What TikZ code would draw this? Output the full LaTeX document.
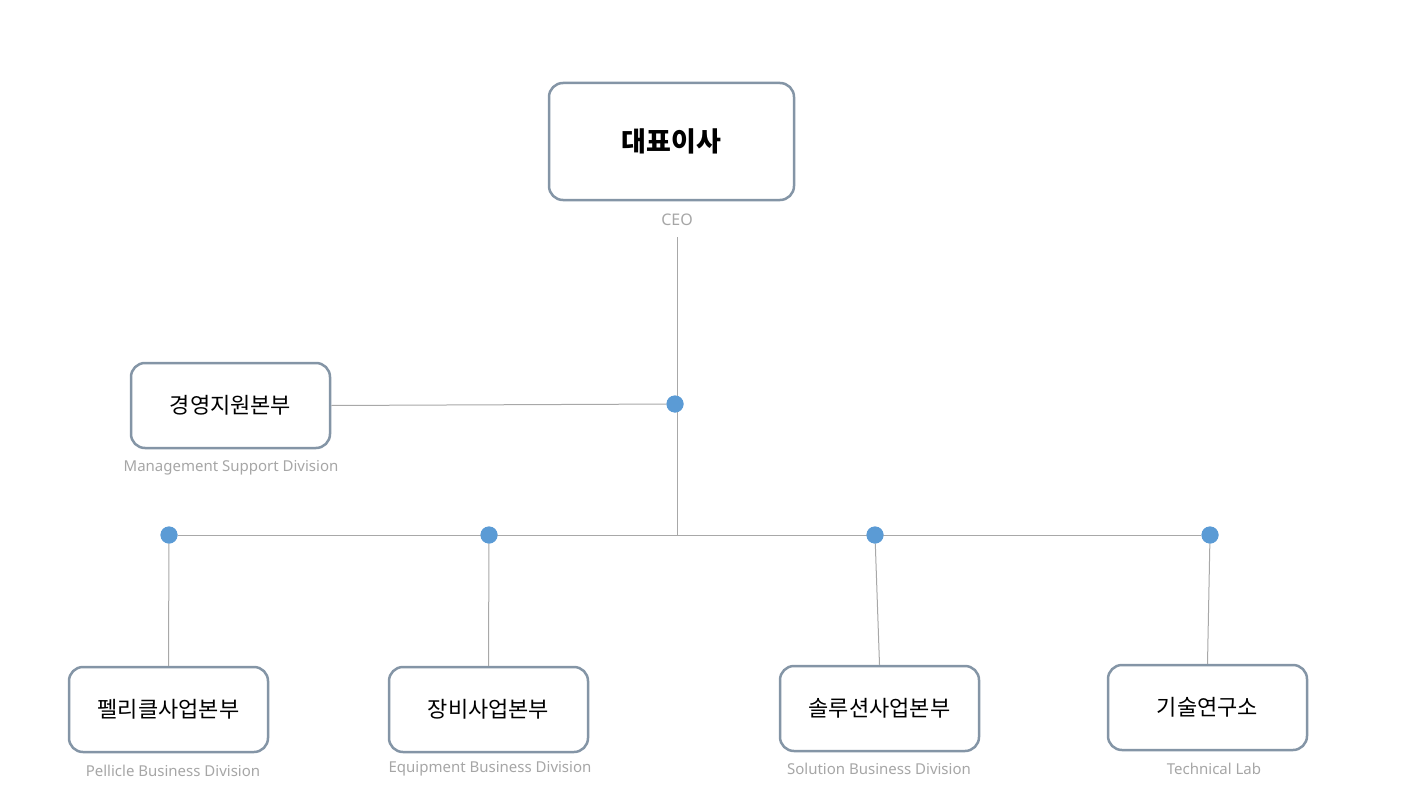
\documentclass[tikz,border=0pt]{standalone}
\usepackage{fontspec}
\setmainfont{Noto Sans}
\newfontfamily\kr{Noto Sans CJK KR}
\definecolor{bord}{HTML}{8495A6}
\definecolor{dotc}{HTML}{5B9BD5}
\definecolor{lab}{HTML}{A6A6A6}
\definecolor{ln}{HTML}{A8A8A8}
\begin{document}
\begin{tikzpicture}[x=1pt,y=-1pt,
  box/.style={draw=bord,line width=2.5pt,rounded corners=14pt,fill=white,inner sep=0pt},
  dotn/.style={circle,fill=dotc,minimum size=17pt,inner sep=0pt},
  lbl/.style={text=lab,font=\fontsize{15}{15}\selectfont},
  conn/.style={draw=ln,line width=1pt}]
\useasboundingbox (0,0) rectangle (1403,800);
\node[box,minimum width=245pt,minimum height=117pt] (ceo) at (671.5,141.5) {\kr\bfseries\fontsize{27}{27}\selectfont 대표이사};
\node[lbl,font=\bfseries\fontsize{16}{16}\selectfont] (ceol) at (677,220) {CEO};
\node[box,minimum width=199pt,minimum height=85pt] (mg) at (230.5,405.5) {\kr\fontsize{22}{22}\selectfont 경영지원본부};
\node[lbl] (mgl) at (231,468) {Management Support Division};
\node[box,minimum width=199pt,minimum height=85pt] (b1) at (168.5,709.5) {\kr\fontsize{22}{22}\selectfont 펠리클사업본부};
\node[box,minimum width=199pt,minimum height=85pt] (b2) at (488.5,709.5) {\kr\fontsize{22}{22}\selectfont 장비사업본부};
\node[box,minimum width=199pt,minimum height=85pt] (b3) at (879.5,708.5) {\kr\fontsize{22}{22}\selectfont 솔루션사업본부};
\node[box,minimum width=199pt,minimum height=85pt] (b4) at (1207.5,707.5) {\kr\fontsize{22}{22}\selectfont 기술연구소};
\node[lbl] (l1) at (173,771) {Pellicle Business Division};
\node[lbl] (l2) at (490,769) {Equipment Business Division};
\node[lbl] (l3) at (879,769) {Solution Business Division};
\node[lbl,font=\bfseries\fontsize{15}{15}\selectfont] (l4) at (1214,769) {Technical Lab};
\coordinate (top) at (677,237);
\coordinate (mid) at (677,535);
\node[dotn] (d0) at (675,404) {};
\node[dotn] (d1) at (169,535) {};
\node[dotn] (d2) at (489,535) {};
\node[dotn] (d3) at (875,535) {};
\node[dotn] (d4) at (1210,535) {};
\begin{scope}[on background layer/.style={}]
\end{scope}
\path[conn] (top) -- (mid);
\path[conn] (mg.east) -- (d0);
\path[conn] (d1) -- (d4);
\path[conn] (d1) -- (b1.north);
\path[conn] (d2) -- (b2.north);
\path[conn] (d3) -- (b3.north);
\path[conn] (d4) -- (b4.north);
\foreach \d in {d0,d1,d2,d3,d4} \node[dotn] at (\d) {};
\end{tikzpicture}
\end{document}
